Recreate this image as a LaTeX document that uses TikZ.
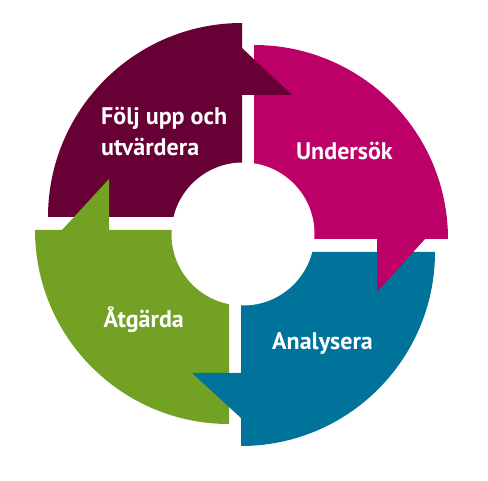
\documentclass[tikz,border=0pt]{standalone}
\usepackage{fontspec}
\setmainfont{PT Sans}
\definecolor{cFolj}{HTML}{660035}
\definecolor{cUnder}{HTML}{BC0068}
\definecolor{cAnal}{HTML}{00739A}
\definecolor{cAtg}{HTML}{73A124}
\begin{document}
\begin{tikzpicture}[x=1pt,y=1pt,
  lbl/.style={text=white,inner sep=0pt,anchor=base west,align=left,
    font=\fontsize{24}{31}\selectfont\bfseries}]
\useasboundingbox (0,0) rectangle (488,480);
% quarter segments
\fill[cFolj]  (242,263) -- (48,263)  arc[start angle=180,end angle=90,radius=194] -- cycle;
\fill[cUnder] (254,241) -- (254,435) arc[start angle=90,end angle=0,radius=194] -- cycle;
\fill[cAnal]  (241,228) -- (435,228) arc[start angle=0,end angle=-90,radius=194] -- cycle;
\fill[cAtg]   (229,250) -- (229,56)  arc[start angle=270,end angle=180,radius=194] -- cycle;
% central hole
\fill[white] (243,246) circle[radius=71.5];
% arrow heads
\fill[cFolj]  (242,432) -- (242,385) -- (292,385) -- cycle;
\fill[cUnder] (377,241) -- (425,241) -- (377,188) -- cycle;
\fill[cAnal]  (241,107) -- (241,62)  -- (192,107) -- cycle;
\fill[cAtg]   (109,250) -- (62,250)  -- (109,301) -- cycle;
% labels
\node[lbl] (folj) at (101,324) {Följ upp och\\utvärdera};
\node[lbl] (under) at (296,320) {Undersök};
\node[lbl] (atg) at (103.5,152) {Åtgärda};
\node[lbl] (anal) at (272,130) {Analysera};
\end{tikzpicture}
\end{document}
